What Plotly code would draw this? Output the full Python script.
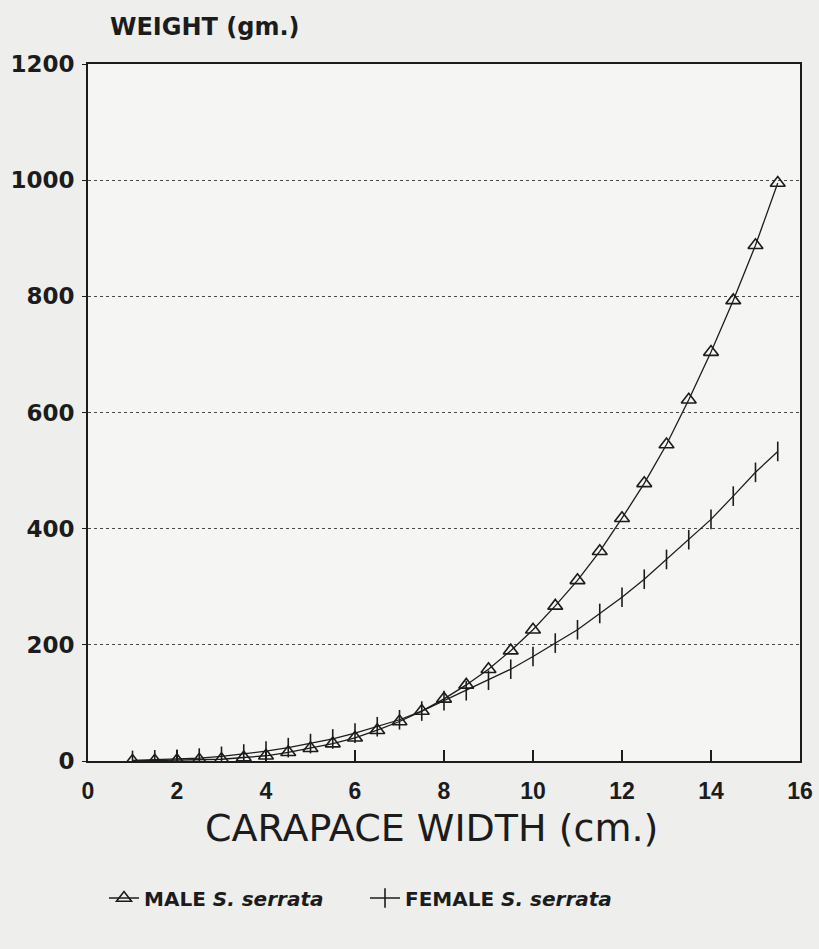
import plotly.graph_objects as go

# Carapace width (cm) at which both curves are marked
carapace_width = [1.0, 1.5, 2.0, 2.5, 3.0, 3.5, 4.0, 4.5, 5.0, 5.5, 6.0, 6.5, 7.0, 7.5, 8.0,
                  8.5, 9.0, 9.5, 10.0, 10.5, 11.0, 11.5, 12.0, 12.5, 13.0, 13.5, 14.0, 14.5, 15.0, 15.5]

# Weight (gm)
male_weight = [0, 0.5, 1, 2, 3, 6, 9, 15, 22, 30, 40, 53, 68, 86, 107,
               131, 158, 190, 226, 267, 311, 361, 418, 478, 545, 622, 704, 793, 888, 995]
female_weight = [1, 2, 3, 5, 8, 12, 17, 23, 30, 38, 48, 59, 71, 86, 104,
                 121, 139, 158, 180, 203, 226, 254, 282, 313, 347, 381, 416, 456, 497, 533]

x_ticks = [0, 2, 4, 6, 8, 10, 12, 14, 16]
y_ticks = [0, 200, 400, 600, 800, 1000, 1200]

male_name = "MALE <i>S. serrata</i>"
female_name = "FEMALE <i>S. serrata</i>"
x_title = "CARAPACE WIDTH (cm.)"
y_title = "WEIGHT (gm.)"

INK = "#1c1c1c"

fig = go.Figure()
fig.add_trace(go.Scatter(
    x=carapace_width, y=male_weight, mode="lines+markers", name=male_name,
    line=dict(color=INK, width=1.3),
    marker=dict(symbol="triangle-up-open", size=13, color=INK, line=dict(width=1.6, color=INK)),
))
fig.add_trace(go.Scatter(
    x=carapace_width, y=female_weight, mode="lines+markers", name=female_name,
    line=dict(color=INK, width=1.3),
    marker=dict(symbol="line-ns-open", size=14, color=INK, line=dict(width=1.6, color=INK)),
))

L, T, W, H = 88, 64, 712, 697

fig.update_layout(
    width=819, height=949,
    margin=dict(l=L, r=819 - L - W, t=T, b=949 - T - H, autoexpand=False),
    paper_bgcolor="#eeeeed",
    plot_bgcolor="#f5f5f4",
    showlegend=True,
    legend=dict(
        orientation="h", xref="container", yref="container",
        x=104 / 819, y=1 - 898 / 949, xanchor="left", yanchor="middle",
        entrywidth=216, entrywidthmode="pixels",
        font=dict(family="DejaVu Sans", size=20, color=INK, weight="bold"),
        bgcolor="rgba(0,0,0,0)", itemwidth=30,
    ),
    xaxis=dict(
        range=[0, 16], tickvals=x_ticks, ticktext=[str(v) for v in x_ticks],
        showline=True, mirror=True, linecolor=INK, linewidth=2,
        ticks="inside", ticklen=11, tickwidth=1.5, tickcolor=INK,
        showgrid=False, zeroline=False, automargin=False,
        tickfont=dict(family="Liberation Sans", size=23, color=INK, weight="bold"),
        ticklabelstandoff=8, ticklabeloverflow="allow",
    ),
    yaxis=dict(
        range=[0, 1200], tickvals=y_ticks, ticktext=[str(v) for v in y_ticks],
        showline=True, mirror=True, linecolor=INK, linewidth=2,
        ticks="outside", ticklen=4, tickwidth=1.2, tickcolor=INK,
        showgrid=True, gridcolor="#4a4a4a", gridwidth=1, griddash="dot",
        zeroline=False, automargin=False,
        tickfont=dict(family="DejaVu Sans", size=23, color=INK, weight="bold"),
        ticklabelstandoff=3, ticklabeloverflow="allow",
    ),
    annotations=[
        dict(text=y_title, xref="paper", yref="paper",
             x=(108 - L) / W, y=(T + H - 27) / H, xanchor="left", yanchor="middle",
             showarrow=False,
             font=dict(family="DejaVu Sans", size=24, color=INK, weight="bold")),
        dict(text=x_title, xref="paper", yref="paper",
             x=(431 - L) / W, y=(T + H - 828) / H, xanchor="center", yanchor="middle",
             showarrow=False,
             font=dict(family="DejaVu Sans", size=38, color=INK)),
    ],
)

fig.write_html(
    "out.html",
    config={"displayModeBar": False},
    post_script="document.body.style.margin='0';document.body.style.overflow='hidden';"
                "document.body.style.background='#eeeeed';",
)
